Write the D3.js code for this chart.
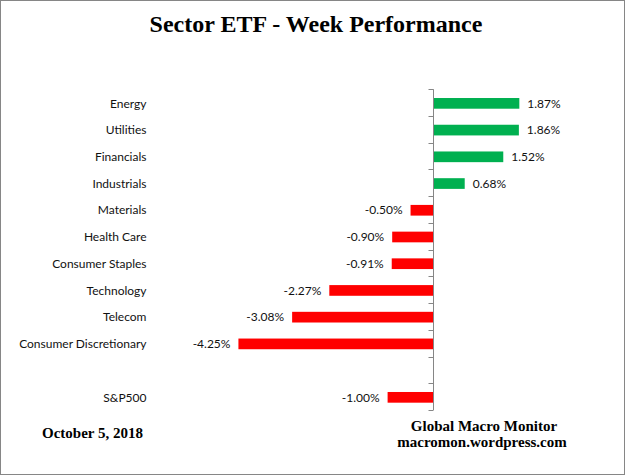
<!DOCTYPE html>
<html>
<head>
<meta charset="utf-8">
<script src="https://cdn.jsdelivr.net/npm/d3@7"></script>
<style>
  body { margin: 0; background: #fff; }
  svg { display: block; }
</style>
</head>
<body>
<div id="chart"></div>
<script>
// sector weekly returns (%), top to bottom; "" is the spacer row before S&P500
var sectors = ["Energy", "Utilities", "Financials", "Industrials", "Materials", "Health Care",
               "Consumer Staples", "Technology", "Telecom", "Consumer Discretionary", "", "S&P500"];
var returns = [1.87, 1.86, 1.52, 0.68, -0.50, -0.90, -0.91, -2.27, -3.08, -4.25, null, -1.00];

var width = 625,
    height = 475;

var svg = d3.select('#chart').append('svg')
    .attr('width', width)
    .attr('height', height);

// outer frame
svg.append('rect')
    .attr('x', 0.5).attr('y', 0.5)
    .attr('width', width - 1).attr('height', height - 1)
    .style('fill', '#fff')
    .style('stroke', '#868686')
    .style('stroke-width', 1);

svg.append('text')
    .attr('x', 316)
    .attr('y', 32)
    .text('Sector ETF - Week Performance')
    .style('font-family', '"Liberation Serif", "Times New Roman", serif')
    .style('font-weight', 'bold')
    .style('font-size', '24px')
    .style('text-anchor', 'middle')
    .style('fill', '#000');

// scales: 0 sits at x=433.5, about 45.9px per percent
var x = d3.scaleLinear()
    .domain([-6, 3])
    .range([433.5 - 6 * 45.9, 433.5 + 3 * 45.9]);

var y = d3.scaleBand()
    .domain(d3.range(sectors.length))
    .range([90, 410.7])
    .paddingInner(0.6)
    .paddingOuter(0.3);

var data = sectors.map(function(s, i) { return { name: s, value: returns[i], i: i }; });
var pct = d3.formatLocale({ decimal: '.', thousands: ',', grouping: [3], currency: ['', ''], minus: '-' }).format('.2f');

// bars
svg.append('g').attr('class', 'bars')
    .selectAll('rect')
    .data(data.filter(function(d) { return d.value !== null; }))
    .enter().append('rect')
    .attr('x', function(d) { return x(Math.min(0, d.value)); })
    .attr('y', function(d) { return y(d.i); })
    .attr('width', function(d) { return Math.abs(x(d.value) - x(0)); })
    .attr('height', y.bandwidth())
    .style('fill', function(d) { return d.value >= 0 ? '#00B050' : '#FF0000'; });

// value labels
svg.append('g').attr('class', 'values')
    .selectAll('text')
    .data(data.filter(function(d) { return d.value !== null; }))
    .enter().append('text')
    .attr('x', function(d) { return d.value >= 0 ? x(d.value) + 8 : x(d.value) - 8; })
    .attr('y', function(d) { return y(d.i) + y.bandwidth() / 2; })
    .attr('dy', '0.35em')
    .text(function(d) { return pct(d.value) + '%'; })
    .style('text-anchor', function(d) { return d.value >= 0 ? 'start' : 'end'; })
    .style('font-family', 'Lato, "Open Sans", sans-serif')
    .style('font-size', '12px')
    .style('fill', '#111');

// category labels
svg.append('g').attr('class', 'names')
    .selectAll('text')
    .data(data)
    .enter().append('text')
    .attr('x', 146.5)
    .attr('y', function(d) { return y(d.i) + y.bandwidth() / 2; })
    .attr('dy', '0.35em')
    .text(function(d) { return d.name; })
    .style('text-anchor', 'end')
    .style('font-family', 'Lato, "Open Sans", sans-serif')
    .style('font-size', '12px')
    .style('fill', '#111');

// vertical axis at zero with ticks between categories
var step = y.step();
var tickYs = d3.range(sectors.length + 1).map(function(k) { return 89.3 + k * step; });
var axis = svg.append('g').attr('class', 'axis');
axis.append('line')
    .attr('x1', x(0)).attr('x2', x(0))
    .attr('y1', tickYs[0]).attr('y2', tickYs[tickYs.length - 1])
    .style('stroke', '#868686')
    .style('stroke-width', 1);
axis.selectAll('.tick')
    .data(tickYs)
    .enter().append('line')
    .attr('class', 'tick')
    .attr('x1', x(0) - 5).attr('x2', x(0))
    .attr('y1', function(d) { return Math.round(d) + 0.5; })
    .attr('y2', function(d) { return Math.round(d) + 0.5; })
    .style('stroke', '#868686')
    .style('stroke-width', 1);

// footer text
var serif = '"Liberation Serif", "Times New Roman", serif';
svg.append('text')
    .attr('x', 42).attr('y', 438)
    .text('October 5, 2018')
    .style('font-family', serif).style('font-weight', 'bold')
    .style('font-size', '15px').style('fill', '#000');
svg.append('text')
    .attr('x', 484).attr('y', 431)
    .text('Global Macro Monitor')
    .style('font-family', serif).style('font-weight', 'bold')
    .style('font-size', '15px').style('text-anchor', 'middle').style('fill', '#000');
svg.append('text')
    .attr('x', 482).attr('y', 447)
    .text('macromon.wordpress.com')
    .style('font-family', serif).style('font-weight', 'bold')
    .style('font-size', '15px').style('text-anchor', 'middle').style('fill', '#000');
</script>
</body>
</html>
